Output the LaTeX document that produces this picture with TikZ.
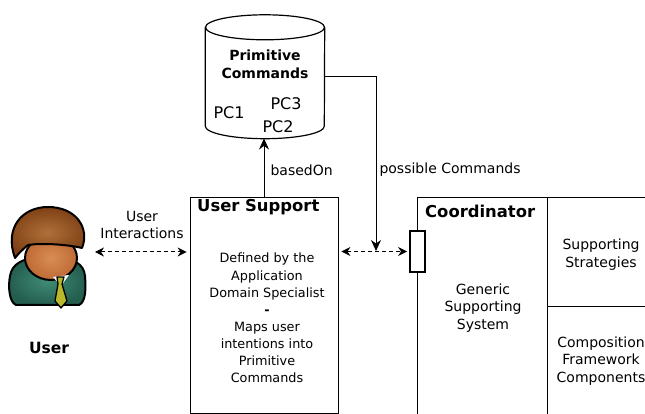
\documentclass[tikz,border=0pt]{standalone}
\usepackage{fontspec}
\setmainfont{DejaVu Sans}
\usetikzlibrary{arrows.meta,positioning}

\definecolor{hair}{HTML}{7E3F14}
\definecolor{hairlight}{HTML}{B0703A}
\definecolor{skin}{HTML}{BF6A35}
\definecolor{skinlight}{HTML}{D88D55}
\definecolor{suit}{HTML}{245E4F}
\definecolor{suitlight}{HTML}{3F8B76}
\definecolor{tie}{HTML}{B9B82A}

\begin{document}
\begin{tikzpicture}[x=1pt,y=1pt,
    every node/.style={align=center,font=\fontsize{14}{17.5}\selectfont},
    box/.style={draw,line width=0.8pt,inner sep=0},
    title/.style={anchor=west,inner sep=0,font=\fontsize{16.4}{19}\selectfont\bfseries},
    link/.style={-{Stealth[length=11pt,width=10pt]},line width=0.8pt},
    talk/.style={{Stealth[length=9pt,width=9pt]}-{Stealth[length=9pt,width=9pt]},line width=1pt,dash pattern=on 4pt off 3pt}]
  \clip (0,0) rectangle (645,414);

  % the user
  \begin{scope}[line width=2pt,line join=round]
    \shadedraw[inner color=suitlight,outer color=suit]
      (16,109) .. controls (9,112) and (8,128) .. (10,138)
      .. controls (12,150) and (22,157) .. (48,157)
      .. controls (74,157) and (84,150) .. (85,138)
      .. controls (86,126) and (86,112) .. (79,109) -- cycle;
    \shadedraw[inner color=skinlight,outer color=skin] (51,156) ellipse[x radius=26,y radius=22];
    \fill[white] (53,137) -- (69,139) -- (61,128) -- cycle;
    \draw[fill=tie,line width=1.3pt] (57,137) -- (64,137) -- (62,130) -- (67,113) -- (61,106)
      -- (55,113) -- (58,130) -- cycle;
    \shadedraw[inner color=hairlight,outer color=hair]
      (15,156) .. controls (4,186) and (22,207) .. (48,207)
      .. controls (76,207) and (90,186) .. (82,166)
      .. controls (65,170) and (40,171) .. (28,169)
      .. controls (22,164) and (18,160) .. (15,156) -- cycle;
  \end{scope}
  \node[font=\fontsize{15.5}{18}\selectfont\bfseries] (user) at (49,66) {User};
  \coordinate (usr) at (95,162);

  % primitive command store
  \node[inner sep=0,minimum width=119pt,minimum height=98.5pt] (db) at (265,337.25) {};
  \coordinate (dbb) at (265,275.5);
  \draw[line width=1.2pt] (db.north west) -- (db.south west)
    arc[start angle=180,end angle=360,x radius=59.5,y radius=12.5] -- (db.north east);
  \draw[line width=1.2pt] (db.north) ellipse[x radius=59.5,y radius=12.5];
  \node[font=\fontsize{14}{18}\selectfont\bfseries] (dbt) at (265,350) {Primitive\\Commands};
  \node[font=\fontsize{16}{18}\selectfont] (pc1) at (229,301) {PC1};
  \node[font=\fontsize{16}{18}\selectfont] (pc3) at (286,310) {PC3};
  \node[font=\fontsize{16}{18}\selectfont] (pc2) at (278,287) {PC2};

  % user support
  \node[box,minimum width=148pt,minimum height=216pt] (us) at (264,109) {};
  \node[title] (ust) at (197,207) {User Support};
  \node[font=\fontsize{12.8}{17.1}\selectfont] (usb) at (267,96)
    {Defined by the\\Application\\Domain Specialist\\\textbf{-}\\Maps user\\intentions into\\Primitive\\Commands};

  % coordinator
  \node[box,minimum width=283pt,minimum height=237pt] (co) at (558.5,98.5) {};
  \draw[line width=0.8pt] (547,217) -- (547,-20);
  \draw[line width=0.8pt] (547,108) -- (700,108);
  \node[title] (cot) at (425,203) {Coordinator};
  \node (gss) at (483,106) {Generic\\Supporting\\System};
  \node (ss) at (601,159.5) {Supporting\\Strategies};
  \node (cfc) at (601,53) {Composition\\Framework\\Components};
  \node[draw,fill=white,line width=1.8pt,inner sep=0,minimum width=15pt,minimum height=41pt] (port) at (417.5,162.5) {};
  \coordinate (drop) at (376,163);

  % connectors
  \draw[talk,shorten >=3pt] (usr) -- (us.west |- usr);
  \node (ui) at (142,189) {User\\Interactions};
  \draw[talk,shorten <=3pt,shorten >=2pt] (us.east |- port.west) -- (port.west);
  \draw[link] (us.north) -- (us.north |- dbb);
  \node[anchor=west] (bo) at (267,244) {basedOn};
  \draw[link] (db.east) -| (drop);
  \node[anchor=west] (pc) at (376,244) {possible Commands};
\end{tikzpicture}
\end{document}
